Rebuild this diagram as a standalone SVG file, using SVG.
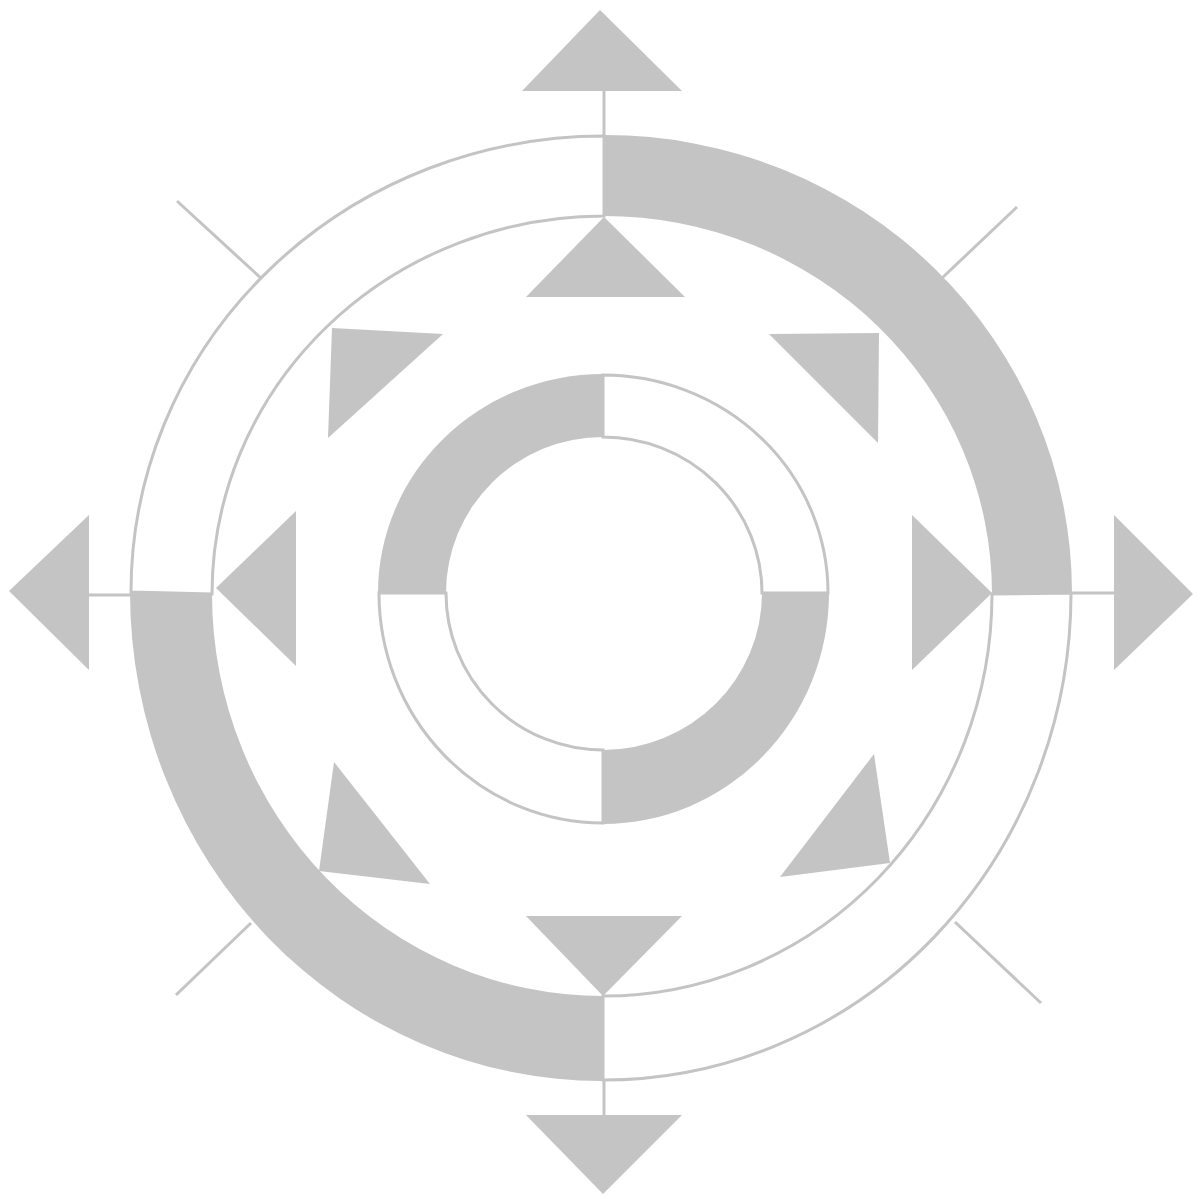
<svg xmlns="http://www.w3.org/2000/svg" width="1199" height="1197" viewBox="0 0 1199 1197">
<style>
.g{fill:#c4c4c4;stroke:none}
.w{fill:#ffffff;stroke:#c4c4c4;stroke-width:3}
.ln{fill:none;stroke:#c4c4c4;stroke-width:3}
</style>
<rect width="1199" height="1197" fill="#ffffff"/>
<g id="connectors">
<line class="ln" x1="604" y1="91" x2="604" y2="137"/>
<line class="ln" x1="604" y1="1079" x2="604" y2="1115"/>
<line class="ln" x1="89" y1="595" x2="132" y2="595"/>
<line class="ln" x1="1070" y1="593" x2="1115" y2="593"/>
<line class="ln" x1="177" y1="201" x2="263" y2="280"/>
<line class="ln" x1="1017" y1="207" x2="941" y2="279"/>
<line class="ln" x1="176" y1="995" x2="251" y2="923"/>
<line class="ln" x1="955" y1="922" x2="1041" y2="1003"/>
</g>
<g id="outer-ring">
<path class="w" d="M131,592 A473,456 0 0 1 604,136 L604,216 A392,378 0 0 0 212,594 Z"/>
<path class="w" d="M1071,593 A468,487 0 0 1 603,1080 L603,996 A389,402 0 0 0 992,594 Z"/>
<path class="g" d="M604,135 A467,458 0 0 1 1072,593 L992,594 A388,378 0 0 0 604,216 Z"/>
<path class="g" d="M603,1081 A472,489 0 0 1 130,592 L212,594 A391,402 0 0 0 603,996 Z"/>
</g>
<g id="middle-ring">
<path class="w" d="M603,375 A225,218 0 0 1 828,593 L762,593 A159,156 0 0 0 603,437 Z"/>
<path class="w" d="M603,823 A224,230 0 0 1 379,593 L446,593 A157,157 0 0 0 603,750 Z"/>
<path class="g" d="M378,593 A225,219 0 0 1 603,374 L603,437 A157,156 0 0 0 446,593 Z"/>
<path class="g" d="M829,593 A226,231 0 0 1 603,824 L603,750 A159,157 0 0 0 762,593 Z"/>
</g>
<g id="arrow-top-outer"><polygon class="g" points="600,10 682,91 522,91"/></g>
<g id="arrow-top-inner"><polygon class="g" points="604,217 685,297 526,297"/></g>
<g id="arrow-bottom-outer"><polygon class="g" points="526,1115 682,1115 603,1194"/></g>
<g id="arrow-bottom-inner"><polygon class="g" points="526,916 682,916 603,996"/></g>
<g id="arrow-left-outer"><polygon class="g" points="9,591 89,515 89,670"/></g>
<g id="arrow-left-inner"><polygon class="g" points="216,588 296,511 296,666"/></g>
<g id="arrow-right-inner"><polygon class="g" points="912,515 992,593 912,670"/></g>
<g id="arrow-right-outer"><polygon class="g" points="1114,515 1193,594 1114,670"/></g>
<g id="tri-tl"><polygon class="g" points="332,328 443,334 328,438"/></g>
<g id="tri-tr"><polygon class="g" points="769,334 879,333 878,443"/></g>
<g id="tri-bl"><polygon class="g" points="334,762 430,884 319,871"/></g>
<g id="tri-br"><polygon class="g" points="874,754 890,863 780,877"/></g>
</svg>
